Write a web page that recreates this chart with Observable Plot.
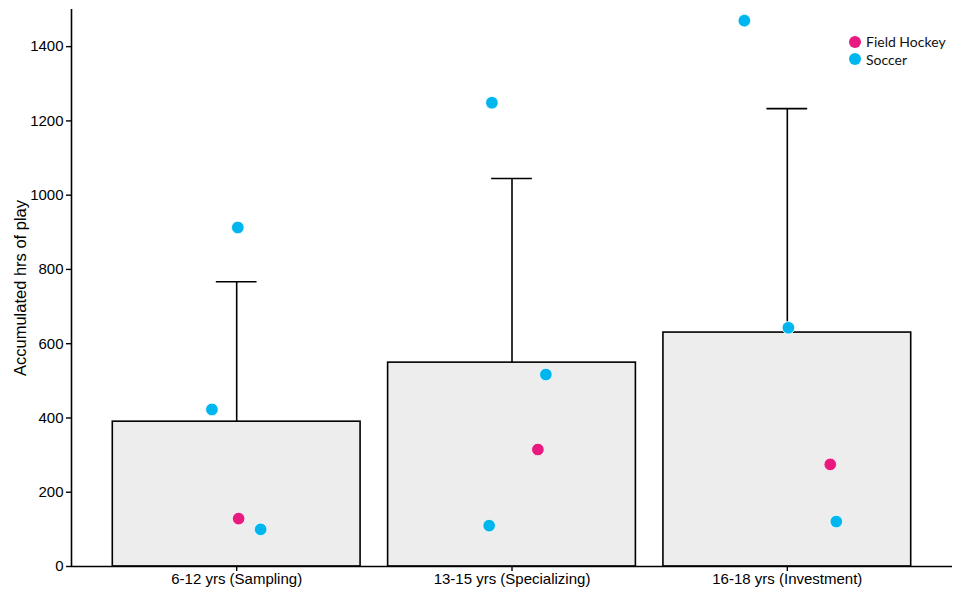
<!DOCTYPE html>
<html><head><meta charset="utf-8">
<script src="https://cdn.jsdelivr.net/npm/d3@7"></script>
<script src="https://cdn.jsdelivr.net/npm/@observablehq/plot@0.6"></script>
<style>
body{margin:0;background:#fff;}
#wrap{position:relative;width:957px;height:590px;}
#wrap svg text{font-family:"Liberation Sans",Arial,sans-serif;}
.legend{position:absolute;left:849px;top:33px;font-family:Lato,"Open Sans",sans-serif;font-size:14px;line-height:17.6px;color:#111;}
.legend div{display:flex;align-items:center;}
.legend span.sw{display:inline-block;width:12px;height:12px;border-radius:50%;margin-right:5px;}
</style></head>
<body><div id="wrap"></div>
<script>
const stages = ["6-12 yrs (Sampling)", "13-15 yrs (Specializing)", "16-18 yrs (Investment)"];
const means = [390, 549, 630];
const sdUpper = [767, 1045, 1233];
const sports = ["Field Hockey", "Soccer"];
const sportColors = ["#E8197F", "#00B6EF"];
const pointStage = [1, 1, 1, 1, 2, 2, 2, 2, 3, 3, 3, 3];
const pointSport = ["Soccer", "Soccer", "Field Hockey", "Soccer",
                    "Soccer", "Soccer", "Field Hockey", "Soccer",
                    "Soccer", "Soccer", "Field Hockey", "Soccer"];
const pointHours = [913, 423, 129, 100, 1249, 517, 315, 110, 1470, 643, 275, 121];
const pointJitter = [0.004, -0.09, 0.007, 0.087, -0.073, 0.123, 0.094, -0.083, -0.156, 0.004, 0.156, 0.178];
const yTicks = [0, 200, 400, 600, 800, 1000, 1200, 1400];

const bars = stages.map((s, i) => ({pos: i + 1, stage: s, mean: means[i], upper: sdUpper[i]}));
const points = pointHours.map((h, i) => ({x: pointStage[i] + pointJitter[i], hours: h, sport: pointSport[i]}));
const half = 0.45, cap = 0.074;

const chart = Plot.plot({
  width: 957, height: 590,
  marginLeft: 71, marginRight: 5, marginTop: 9, marginBottom: 24,
  style: {fontFamily: "Liberation Sans", fontSize: "15px", color: "#000", background: "#fff"},
  x: {type: "linear", domain: [0.4, 3.6]},
  y: {domain: [0, 1500]},
  color: {domain: sports, range: sportColors},
  marks: [
    Plot.rectY(bars, {x1: d => d.pos - half, x2: d => d.pos + half, y1: 0, y2: "mean", fill: "#EDEDED", stroke: "#000", strokeWidth: 1.6}),
    Plot.ruleX(bars, {x: "pos", y1: "mean", y2: "upper", stroke: "#000", strokeWidth: 1.6}),
    Plot.ruleY(bars, {y: "upper", x1: d => d.pos - cap, x2: d => d.pos + cap, stroke: "#000", strokeWidth: 1.6}),
    Plot.axisX({ticks: [1, 2, 3], tickFormat: d => stages[d - 1], tickSize: 5, tickPadding: 2, fontSize: 15, label: null, strokeWidth: 1.4}),
    Plot.axisY({ticks: yTicks, tickFormat: d3.format("d"), tickSize: 5, tickPadding: 3, fontSize: 15, strokeWidth: 1.4, label: null}),
    Plot.axisY({ticks: [], tickSize: 0, fontSize: 16.5,
                label: "Accumulated hrs of play", labelAnchor: "center", labelOffset: 57, labelArrow: "none"}),
    Plot.ruleX([0.4], {stroke: "#000", strokeWidth: 1.6}),
    Plot.ruleY([0], {stroke: "#000", strokeWidth: 1.6}),
    Plot.dot(points, {x: "x", y: "hours", fill: "sport", r: 6.3, stroke: "#fff", strokeWidth: 0.8})
  ]
});
document.getElementById("wrap").appendChild(chart);

const lg = document.createElement("div");
lg.className = "legend";
sports.forEach((s, i) => {
  const row = document.createElement("div");
  const sw = document.createElement("span");
  sw.className = "sw"; sw.style.background = sportColors[i];
  row.appendChild(sw);
  row.appendChild(document.createTextNode(s));
  lg.appendChild(row);
});
document.getElementById("wrap").appendChild(lg);
</script>
</body></html>
